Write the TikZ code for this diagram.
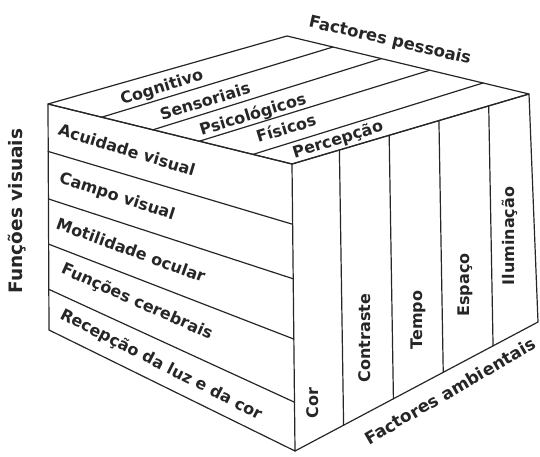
\documentclass[tikz,border=0pt]{standalone}
\usepackage{fontspec}
\setmainfont{DejaVu Sans}
\usetikzlibrary{calc}
\begin{document}
\begin{tikzpicture}[x=1pt,y=-1pt,line cap=round,line join=round,font=\bfseries\fontsize{16}{16}\selectfont]
	\useasboundingbox (0,0) rectangle (540,457);
	\tikzset{face/.style={draw=black!85,line width=1.2pt},
		lbl/.style={inner sep=0pt,text=black!85},
		titulo/.style={lbl,font=\bfseries\fontsize{18.5}{18.5}\selectfont}}
	% cantos do cubo
	\coordinate (e) at (48,104);\coordinate (t) at (287,36);\coordinate (d) at (529,94);\coordinate (f) at (292,164);
	\coordinate (eb) at (49,330);\coordinate (fb) at (295,451);\coordinate (db) at (538,322);
	\draw[face] (e) -- (t) -- (d) -- (f) -- cycle;
	\draw[face] (e) -- (f) -- (fb) -- (eb) -- cycle;
	\draw[face] (f) -- (d) -- (db) -- (fb);
	\foreach \p/\q in {0.22/0.19,0.43/0.39,0.62/0.59,0.84/0.81}{\draw[face] ($(e)!\p!(f)$) -- ($(t)!\q!(d)$);}
	\foreach \p/\q in {0.21/0.21,0.42/0.40,0.62/0.61,0.82/0.83}{\draw[face] ($(e)!\p!(eb)$) -- ($(f)!\q!(fb)$);}
	\foreach \p/\q in {0.20/0.20,0.41/0.405,0.62/0.61,0.83/0.815}{\draw[face] ($(f)!\p!(d)$) -- ($(fb)!\q!(db)$);}
	% face de cima
	\node[lbl,rotate=17] (cog) at (162,88) {Cognitivo};
	\node[lbl,rotate=17] (sen) at (205,101) {Sensoriais};
	\node[lbl,rotate=17] (psi) at (253,115) {Psicológicos};
	\node[lbl,rotate=17] (fis) at (286,128) {Físicos};
	\node[lbl,rotate=17] (per) at (338,140) {Percepção};
	% face da esquerda
	\node[lbl,rotate=-17] (acu) at (127,150) {Acuidade visual};
	\node[lbl,rotate=-18] (cam) at (117,197) {Campo visual};
	\node[lbl,rotate=-20] (mot) at (131,250) {Motilidade ocular};
	\node[lbl,rotate=-24] (cer) at (137,302) {Funções cerebrais};
	\node[lbl,rotate=-27] (rec) at (161,365) {Recepção da luz e da cor};
	% face da direita
	\node[lbl,rotate=90] (cor) at (313,403) {Cor};
	\node[lbl,rotate=90] (con) at (365,338) {Contraste};
	\node[lbl,rotate=90] (tem) at (418,320) {Tempo};
	\node[lbl,rotate=90] (esp) at (465,285) {Espaço};
	\node[lbl,rotate=90] (ilu) at (510,236) {Iluminação};
	% titulos
	\node[titulo,rotate=90] (fvis) at (17,211) {Funções visuais};
	\node[lbl,font=\bfseries\fontsize{16.5}{16.5}\selectfont,rotate=-13] (fpes) at (390,41) {Factores pessoais};
	\node[lbl,font=\bfseries\fontsize{17}{17}\selectfont,rotate=30] (famb) at (450,391) {Factores ambientais};
\end{tikzpicture}
\end{document}
